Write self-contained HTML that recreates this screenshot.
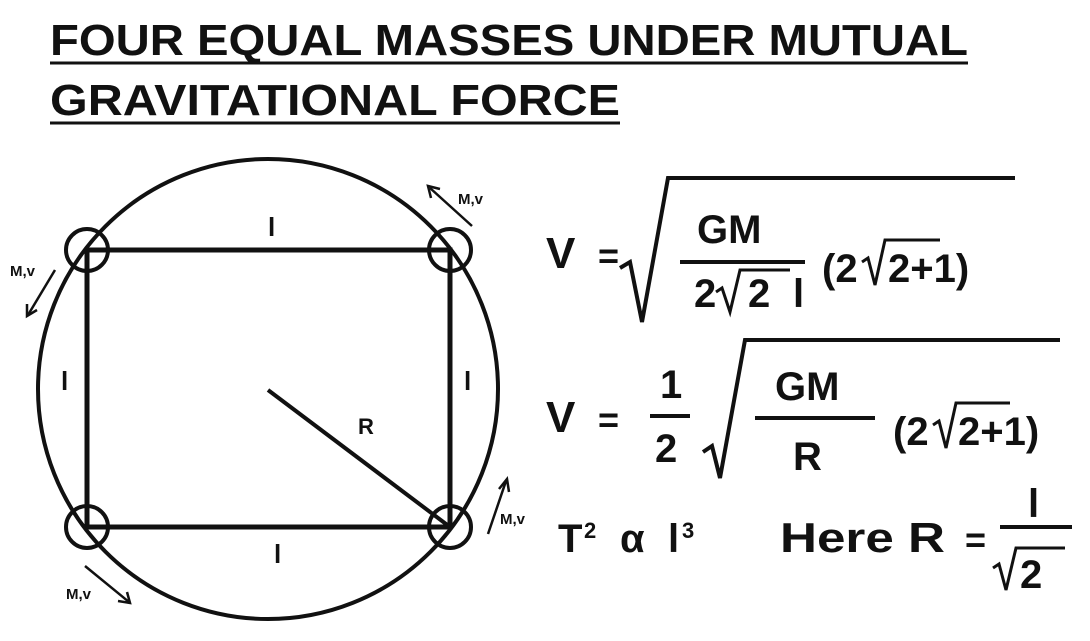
<!DOCTYPE html>
<html><head><meta charset="utf-8"><style>
html,body{margin:0;padding:0;background:#fff;}
svg{display:block;}
text{font-family:"Liberation Sans",sans-serif;font-weight:bold;fill:#111;}
</style></head><body>
<svg width="1090" height="641" viewBox="0 0 1090 641">
<g>
<text x="50" y="55" font-size="44" textLength="918" lengthAdjust="spacingAndGlyphs">FOUR EQUAL MASSES UNDER MUTUAL</text>
<line x1="50" y1="63" x2="968" y2="63" stroke="#111" stroke-width="3"/>
<text x="50" y="115" font-size="44" textLength="570" lengthAdjust="spacingAndGlyphs">GRAVITATIONAL FORCE</text>
<line x1="50" y1="123" x2="620" y2="123" stroke="#111" stroke-width="3"/>
</g>
<g stroke="#111" fill="none">
<circle cx="268" cy="389" r="230" stroke-width="4"/>
<rect x="87" y="250" width="363" height="277" stroke-width="5"/>
<circle cx="87" cy="250" r="21" stroke-width="4"/>
<circle cx="450" cy="250" r="21" stroke-width="4"/>
<circle cx="87" cy="527" r="21" stroke-width="4"/>
<circle cx="450" cy="527" r="21" stroke-width="4"/>
<line x1="268" y1="390" x2="450" y2="527" stroke-width="4"/>
<g stroke-width="2.5">
<line x1="472" y1="226" x2="430" y2="188"/><polyline points="431,198 428,186 440,189"/>
<line x1="55" y1="270" x2="28" y2="315"/><polyline points="27,304 27,316 37,310"/>
<line x1="85" y1="566" x2="129" y2="602"/><polyline points="118,601 130,603 127,592"/>
<line x1="488" y1="534" x2="506" y2="481"/><polyline points="499,489 507,479 509,492"/>
</g>
</g>
<g font-size="22">
<text x="268" y="236" font-size="26">l</text>
<text x="274" y="563" font-size="26">l</text>
<text x="61" y="390" font-size="26">l</text>
<text x="464" y="390" font-size="26">l</text>
<text x="358" y="434" font-size="22">R</text>
<text x="458" y="204" font-size="15">M,v</text>
<text x="10" y="276" font-size="15">M,v</text>
<text x="66" y="599" font-size="15">M,v</text>
<text x="500" y="524" font-size="15">M,v</text>
</g>
<g>
<text x="546" y="268" font-size="44">V</text>
<text x="598" y="268" font-size="36">=</text>
<polyline points="620,268 630,262 642,322 668,178 1015,178" fill="none" stroke="#111" stroke-width="4"/>
<text x="697" y="243" font-size="40">GM</text>
<line x1="680" y1="262" x2="805" y2="262" stroke="#111" stroke-width="4"/>
<text x="694" y="307" font-size="40">2</text>
<polyline points="716,292 722,288 730,312 740,270 790,270" fill="none" stroke="#111" stroke-width="3"/>
<text x="748" y="307" font-size="40">2</text>
<text x="793" y="307" font-size="40">l</text>
<text x="822" y="282" font-size="40">(2</text>
<polyline points="862,262 868,258 875,285 885,240 940,240" fill="none" stroke="#111" stroke-width="3"/>
<text x="888" y="282" font-size="40">2+1)</text>
</g>
<g>
<text x="546" y="432" font-size="44">V</text>
<text x="598" y="432" font-size="36">=</text>
<text x="660" y="398" font-size="40">1</text>
<line x1="650" y1="416" x2="690" y2="416" stroke="#111" stroke-width="4"/>
<text x="655" y="462" font-size="40">2</text>
<polyline points="703,452 712,446 720,478 745,340 1060,340" fill="none" stroke="#111" stroke-width="4"/>
<text x="775" y="400" font-size="40">GM</text>
<line x1="755" y1="418" x2="875" y2="418" stroke="#111" stroke-width="4"/>
<text x="793" y="470" font-size="40">R</text>
<text x="893" y="445" font-size="40">(2</text>
<polyline points="933,425 939,421 946,448 956,403 1010,403" fill="none" stroke="#111" stroke-width="3"/>
<text x="958" y="445" font-size="40">2+1)</text>
</g>
<g>
<text x="558" y="552" font-size="40">T</text>
<text x="584" y="538" font-size="22">2</text>
<text x="620" y="552" font-size="40" font-family="Liberation Serif" font-weight="normal">α</text>
<text x="668" y="552" font-size="40">l</text>
<text x="682" y="538" font-size="22">3</text>
<text x="780" y="552" font-size="42" textLength="165" lengthAdjust="spacingAndGlyphs">Here R</text>
<text x="965" y="552" font-size="36">=</text>
<text x="1028" y="517" font-size="40">l</text>
<line x1="1000" y1="527" x2="1072" y2="527" stroke="#111" stroke-width="4"/>
<polyline points="993,568 999,564 1006,590 1016,548 1065,548" fill="none" stroke="#111" stroke-width="3"/>
<text x="1020" y="588" font-size="40">2</text>
</g>
</svg>
</body></html>
